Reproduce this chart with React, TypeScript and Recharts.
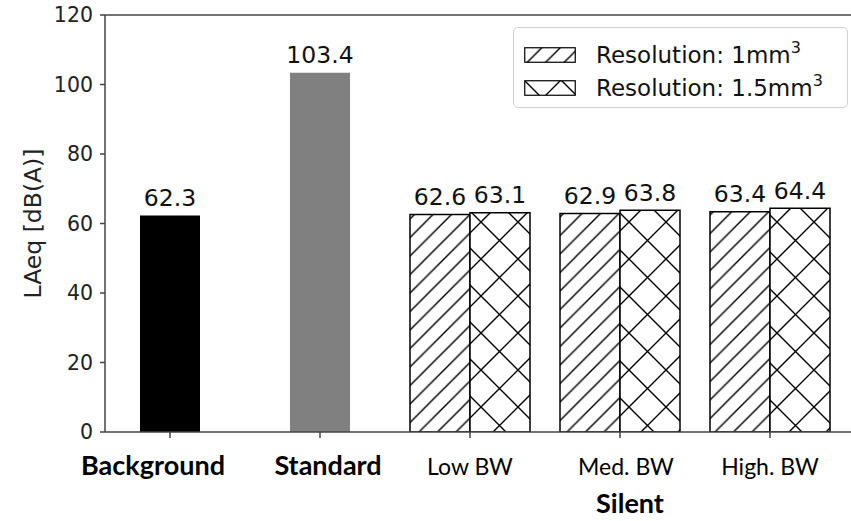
import React from 'react';
import { BarChart, Bar, XAxis, YAxis, Legend, LabelList, ReferenceLine, Label, Cell } from 'recharts';

// categories along the x axis
const categories = ['Background', 'Standard', 'Low BW', 'Med. BW', 'High. BW'];
const boldCategories = ['Background', 'Standard'];

// single reference bars (background noise, standard sequence)
const referenceValues = [62.3, 103.4, null, null, null];
const referenceColors = ['#000000', '#808080', '#000000', '#000000', '#000000'];

// silent sequences at two resolutions
const res1Values = [null, null, 62.6, 62.9, 63.4];
const res15Values = [null, null, 63.1, 63.8, 64.4];

const yTicks = [0, 20, 40, 60, 80, 100, 120];

const data = categories.map((name, i) => ({
  name,
  baseline: referenceValues[i],
  res1: res1Values[i],
  res15: res15Values[i]
}));

const AXIS = '#444';
const MPL_FONT = '"DejaVu Sans", sans-serif';
const LABEL_FONT = 'Lato, "Open Sans", sans-serif';

// the category captions were placed by hand in the original, slightly off the ticks
const captionShift: Record<string, number> = { Background: -17, Standard: 8, 'Med. BW': 6 };

const HatchDefs = () => (
  <svg width={0} height={0} style={{ position: 'absolute' }}>
    <defs>
      <pattern id="hatchDiag" patternUnits="userSpaceOnUse" width={18.5} height={18.5}>
        <rect width={18.5} height={18.5} fill="#fff" />
        <path d="M0,18.5 L18.5,0 M-2,2 L2,-2 M16.5,20.5 L20.5,16.5" stroke="#000" strokeWidth={1.4} />
      </pattern>
      <pattern id="hatchCross" patternUnits="userSpaceOnUse" width={37} height={37}>
        <rect width={37} height={37} fill="#fff" />
        <path d="M0,0 L37,37 M0,37 L37,0" stroke="#000" strokeWidth={1.4} />
      </pattern>
    </defs>
  </svg>
);

const CategoryTick = (props: any) => {
  const { x, y, payload } = props;
  const bold = boldCategories.includes(payload.value);
  return (
    <text
      x={x + (captionShift[payload.value] || 0)}
      y={y + 37}
      textAnchor="middle"
      fontFamily={LABEL_FONT}
      fontWeight={bold ? 700 : 400}
      fontSize={bold ? 27 : 23}
      fill="#000"
    >
      {payload.value}
    </text>
  );
};

const ValueLabel = (props: any) => {
  const { x, y, width, value } = props;
  if (value === null || value === undefined) return null;
  return (
    <text x={x + width / 2} y={y - 9.5} textAnchor="middle" fontFamily={MPL_FONT} fontSize={23.5} fill="#111">
      {Number(value).toFixed(1)}
    </text>
  );
};

const LegendContent = () => {
  const rows = [
    { id: 'hatchDiag', text: '1' },
    { id: 'hatchCross', text: '1.5' }
  ];
  return (
    <div
      style={{
        boxSizing: 'border-box',
        width: 335,
        height: 81,
        border: '1.5px solid #d0d0d0',
        borderRadius: 5,
        background: '#fff',
        padding: '13px 0 0 10px'
      }}
    >
      {rows.map((r) => (
        <div key={r.id} style={{ display: 'flex', alignItems: 'center', height: 39, marginTop: -6 }}>
          <svg width={52} height={16} style={{ flex: 'none' }}>
            <rect x={0.75} y={0.75} width={50.5} height={14.5} fill={`url(#${r.id})`} stroke="#000" strokeWidth={1.2} />
          </svg>
          <span style={{ marginLeft: 20, fontFamily: MPL_FONT, fontSize: 23, color: '#111', whiteSpace: 'nowrap' }}>
            Resolution: {r.text}mm
            <span style={{ fontSize: 16, position: 'relative', top: -10 }}>3</span>
          </span>
        </div>
      ))}
    </div>
  );
};

const App: React.FC = () => {
  return (
    <div style={{ position: 'absolute', left: 0, top: 0, width: 851, height: 521, overflow: 'hidden', background: '#fff' }}>
      <HatchDefs />
      <BarChart width={851} height={521} data={data} margin={{ top: 15, right: 0, bottom: 0, left: 0 }} barGap={0}>
        <XAxis
          xAxisId="main"
          dataKey="name"
          height={89}
          interval={0}
          padding={{ left: -10, right: 6 }}
          tick={<CategoryTick />}
          tickSize={6}
          tickMargin={0}
          axisLine={{ stroke: AXIS, strokeWidth: 1.5 }}
          tickLine={{ stroke: AXIS, strokeWidth: 1.5 }}
        >
          <Label
            value="Silent"
            position="insideBottom"
            offset={8}
            dx={152}
            fontFamily={LABEL_FONT}
            fontWeight={700}
            fontSize={27}
            fill="#000"
          />
        </XAxis>
        <XAxis xAxisId="silent" dataKey="name" hide padding={{ left: -10, right: 6 }} />
        <YAxis
          domain={[0, 120]}
          ticks={yTicks}
          width={105}
          allowDataOverflow
          tickSize={5}
          tickMargin={7}
          axisLine={{ stroke: AXIS, strokeWidth: 1.5 }}
          tickLine={{ stroke: AXIS, strokeWidth: 1.5 }}
          tick={{ fill: '#222', fontSize: 20.5, fontFamily: MPL_FONT }}
        >
          <Label
            value="LAeq [dB(A)]"
            angle={-90}
            position="center"
            dx={-19.5}
            fontFamily={MPL_FONT}
            fontSize={23.5}
            fill="#222"
          />
        </YAxis>
        <ReferenceLine xAxisId="main" y={120} stroke={AXIS} strokeWidth={1.5} />
        <Legend
          layout="vertical"
          align="center"
          verticalAlign="middle"
          content={<LegendContent />}
          wrapperStyle={{ left: 513, top: 27, width: 335, height: 81 }}
        />
        <Bar xAxisId="main" dataKey="baseline" barSize={60} isAnimationActive={false}>
          {data.map((d, i) => (
            <Cell key={d.name} fill={referenceColors[i]} />
          ))}
          <LabelList dataKey="baseline" content={<ValueLabel />} />
        </Bar>
        <Bar
          xAxisId="silent"
          dataKey="res1"
          barSize={60}
          fill="url(#hatchDiag)"
          stroke="#000"
          strokeWidth={1.5}
          isAnimationActive={false}
        >
          <LabelList dataKey="res1" content={<ValueLabel />} />
        </Bar>
        <Bar
          xAxisId="silent"
          dataKey="res15"
          barSize={60}
          fill="url(#hatchCross)"
          stroke="#000"
          strokeWidth={1.5}
          isAnimationActive={false}
        >
          <LabelList dataKey="res15" content={<ValueLabel />} />
        </Bar>
      </BarChart>
    </div>
  );
};

export default App;
